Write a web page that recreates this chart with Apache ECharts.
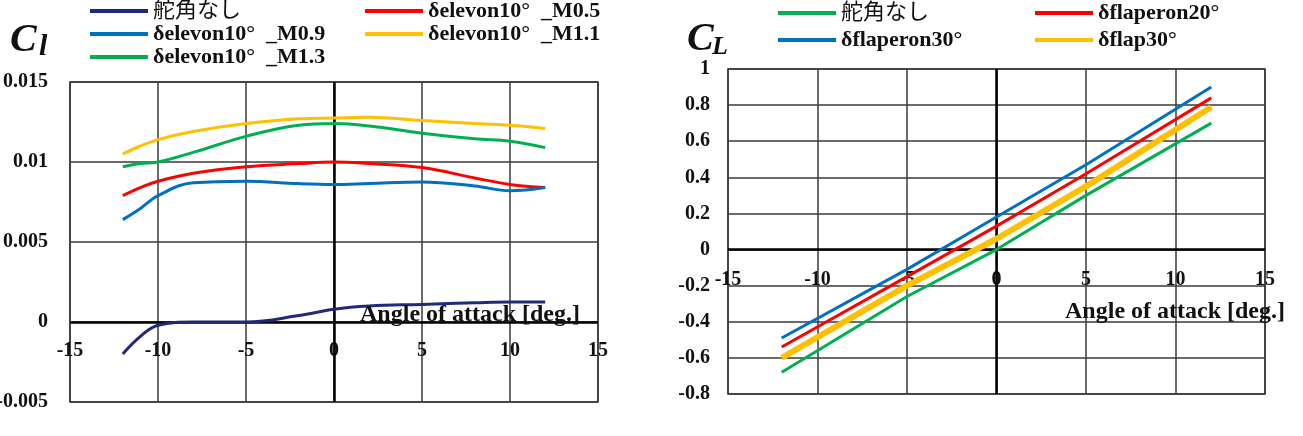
<!DOCTYPE html>
<html>
<head>
<meta charset="utf-8">
<script src="https://cdn.jsdelivr.net/npm/echarts@6/dist/echarts.min.js"></script>
<style>
  html, body { margin: 0; padding: 0; background: #fff; }
  #chart { width: 1303px; height: 436px; }
</style>
</head>
<body>
<div id="chart"></div>
<script>
// left chart: Cl vs angle of attack
const alphaL = [-12, -11, -10, -8, -5, -2, 0, 2, 5, 8, 10, 12]
const clNone = [-0.0020, -0.0009, -0.0002, 0.0000, 0.0000, 0.0004, 0.0008, 0.0010, 0.0011, 0.0012, 0.00125, 0.00125]
const clM05 = [0.0079, 0.0084, 0.0088, 0.0093, 0.0097, 0.0099, 0.0100, 0.0099, 0.00965, 0.0090, 0.0086, 0.0084]
const clM09 = [0.0064, 0.0071, 0.0079, 0.0087, 0.0088, 0.00865, 0.0086, 0.00866, 0.00875, 0.0085, 0.0082, 0.0084]
const clM11 = [0.0105, 0.0110, 0.0114, 0.0119, 0.0124, 0.0127, 0.01275, 0.0128, 0.0126, 0.0124, 0.0123, 0.0121]
const clM13 = [0.0097, 0.0099, 0.0100, 0.0106, 0.0116, 0.0123, 0.0124, 0.01225, 0.0118, 0.01145, 0.0113, 0.0109]

// right chart: CL vs angle of attack
const alphaR = [-12, -5, 0, 5, 12]
const cLNone = [-0.68, -0.26, 0.00, 0.30, 0.70]
const cLFlaperon20 = [-0.54, -0.15, 0.13, 0.42, 0.84]
const cLFlaperon30 = [-0.49, -0.11, 0.18, 0.47, 0.90]
const cLFlap30 = [-0.60, -0.20, 0.06, 0.35, 0.79]

const namesL = ['舵角なし', 'δelevon10°  _M0.5', 'δelevon10°  _M0.9', 'δelevon10°  _M1.1', 'δelevon10°  _M1.3']
const namesR = ['舵角なし', 'δflaperon20°', 'δflaperon30°', 'δflap30°']
const xTicks = [-15, -10, -5, 0, 5, 10, 15]

const FONT = "'Liberation Serif', 'Noto Sans CJK JP', serif"
const GRID_COLOR = '#3a3a3a'
const NAVY = '#1F2A78'
const GREEN = '#00B050'

const pairs = (xs, ys) => xs.map((x, i) => [x, ys[i]])

const makeLine = (name, xs, ys, color, width, gridIdx, withAxisLines) => {
  const s = {
    name: name,
    type: 'line',
    xAxisIndex: gridIdx,
    yAxisIndex: gridIdx,
    data: pairs(xs, ys),
    smooth: gridIdx === 0 ? 0.4 : false,
    showSymbol: false,
    lineStyle: { color: color, width: width },
    itemStyle: { color: color },
    z: 3
  }
  if (withAxisLines) {
    // thick axis lines crossing at the origin
    s.markLine = {
      silent: true,
      symbol: ['none', 'none'],
      label: { show: false },
      lineStyle: { color: '#000', width: 2.5, type: 'solid' },
      data: [{ xAxis: 0 }, { yAxis: 0 }],
      z: 2
    }
  }
  return s
}

// labels sit just under the zero line, so push the axis up with a negative offset
const xAxisBase = (gridIdx, offset) => ({
  type: 'value',
  gridIndex: gridIdx,
  min: xTicks[0],
  max: xTicks[xTicks.length - 1],
  interval: 5,
  offset: offset,
  axisLine: { show: false, onZero: false },
  axisTick: { show: false },
  axisLabel: {
    margin: 20,
    fontSize: 20,
    fontWeight: 'bold',
    fontFamily: FONT,
    color: '#111',
    showMinLabel: true,
    showMaxLabel: true
  },
  splitLine: { show: true, lineStyle: { color: GRID_COLOR, width: 1.5 } }
})

const yAxisBase = (gridIdx, min, max, interval, margin) => ({
  type: 'value',
  gridIndex: gridIdx,
  min: min,
  max: max,
  interval: interval,
  axisLine: { show: false, onZero: false },
  axisTick: { show: false },
  axisLabel: {
    margin: margin,
    fontSize: 20,
    fontWeight: 'bold',
    fontFamily: FONT,
    color: '#111',
    showMinLabel: true,
    showMaxLabel: true
  },
  splitLine: { show: true, lineStyle: { color: GRID_COLOR, width: 1.5 } }
})

const legendText = { fontSize: 22, fontWeight: 'bold', fontFamily: FONT, color: '#111' }
const legendBase = {
  orient: 'vertical',
  icon: 'rect',
  itemWidth: 58,
  itemHeight: 4,
  textStyle: legendText,
  selectedMode: false,
  padding: 0
}

// "舵角なし" is used in both charts, so its legend entries get their own colour
const noDeflection = (color) => ({
  name: '舵角なし',
  itemStyle: { color: color },
  textStyle: { fontWeight: 'normal' }
})

const titleText = (text, left, top, size, extra) => ({
  text: text,
  left: left,
  top: top,
  padding: 0,
  textStyle: Object.assign({ fontSize: size, fontWeight: 'bold', fontFamily: FONT, color: '#111' }, extra || {})
})

const chart = echarts.init(document.getElementById('chart'))

chart.setOption({
  backgroundColor: '#fff',
  animation: false,
  title: [
    titleText('C', 10, 21, 40, { fontStyle: 'italic' }),
    titleText('l', 39, 32, 30, { fontStyle: 'italic' }),
    titleText('C', 687, 20, 40, { fontStyle: 'italic' }),
    titleText('L', 712, 34, 26, { fontStyle: 'italic' }),
    Object.assign(titleText('Angle of attack [deg.]', null, 303, 24), { right: 723 }),
    Object.assign(titleText('Angle of attack [deg.]', null, 300, 24), { right: 18 })
  ],
  legend: [
    Object.assign({}, legendBase, { left: 90, top: 0, itemGap: 1, data: [noDeflection(NAVY), namesL[2], namesL[4]] }),
    Object.assign({}, legendBase, { left: 365, top: 0, itemGap: 1, data: [namesL[1], namesL[3]] }),
    Object.assign({}, legendBase, { left: 778, top: 2, itemGap: 5, data: [noDeflection(GREEN), namesR[2]] }),
    Object.assign({}, legendBase, { left: 1035, top: 2, itemGap: 5, data: [namesR[1], namesR[3]] })
  ],
  grid: [
    { left: 70, top: 82, width: 528, height: 320, show: true, borderColor: GRID_COLOR, borderWidth: 1.5, outerBoundsMode: 'none' },
    { left: 728, top: 69, width: 537, height: 325, show: true, borderColor: GRID_COLOR, borderWidth: 1.5, outerBoundsMode: 'none' }
  ],
  xAxis: [xAxisBase(0, -81), xAxisBase(1, -144)],
  yAxis: [
    yAxisBase(0, -0.005, 0.015, 0.005, 22),
    yAxisBase(1, -0.8, 1, 0.2, 18)
  ],
  series: [
    makeLine(namesL[0], alphaL, clNone, NAVY, 3, 0, true),
    makeLine(namesL[1], alphaL, clM05, '#FF0000', 3, 0),
    makeLine(namesL[2], alphaL, clM09, '#0070C0', 3, 0),
    makeLine(namesL[3], alphaL, clM11, '#FFC000', 3, 0),
    makeLine(namesL[4], alphaL, clM13, GREEN, 3, 0),
    makeLine(namesR[0], alphaR, cLNone, GREEN, 3, 1, true),
    makeLine(namesR[1], alphaR, cLFlaperon20, '#FF0000', 3, 1),
    makeLine(namesR[2], alphaR, cLFlaperon30, '#0070C0', 3, 1),
    makeLine(namesR[3], alphaR, cLFlap30, '#FFC000', 6, 1)
  ]
})
</script>
</body>
</html>
